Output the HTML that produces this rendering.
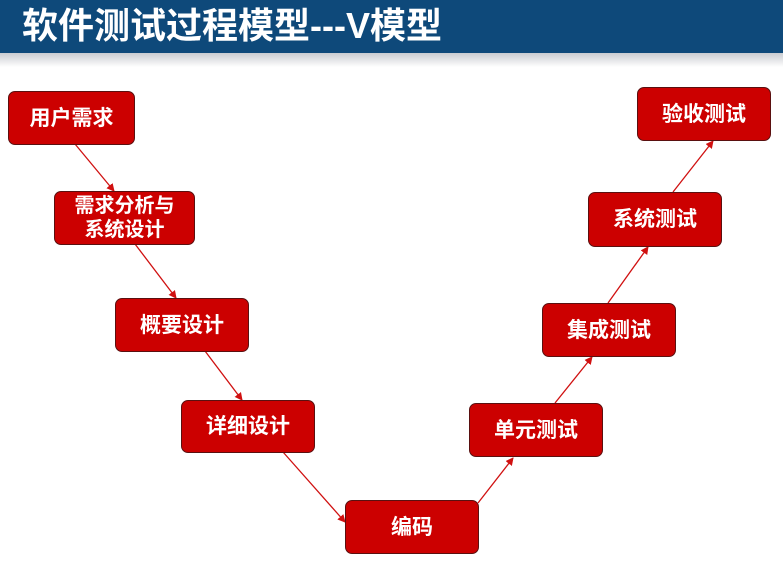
<!DOCTYPE html>
<html><head><meta charset="utf-8"><style>
body{margin:0;width:783px;height:562px;background:#fff;position:relative;overflow:hidden;font-family:"Liberation Sans","Noto Sans CJK SC",sans-serif}
.hd{position:absolute;left:0;top:0;width:783px;height:53px;background:#0e497a}
.sh{position:absolute;left:0;top:53px;width:783px;height:14px;background:linear-gradient(#c9ccd1,#fff)}
.t{position:absolute;left:22px;top:5px;color:#fff;font-weight:bold;font-size:36px;line-height:42px;white-space:nowrap}
.b{position:absolute;background:#cc0000;border:1.5px solid #5a1010;border-radius:7px;color:#fff;font-weight:bold;font-size:21px;display:flex;align-items:center;justify-content:center;text-align:center;line-height:25px;box-sizing:border-box}
svg{position:absolute;left:0;top:0}
</style></head><body>
<div class="hd"></div><div class="sh"></div>
<div class="t">软件测试过程模型---V模型</div>
<svg width="783" height="562"><defs><marker id="a" markerWidth="8" markerHeight="8" refX="7" refY="4" orient="auto" markerUnits="userSpaceOnUse"><path d="M0,0 L8,4 L0,8 z" fill="#d01010"/></marker></defs>
<g stroke="#d01010" stroke-width="1.3" marker-end="url(#a)">
<line x1="75" y1="144" x2="114" y2="191"/>
<line x1="135" y1="244" x2="176" y2="298"/>
<line x1="205" y1="351" x2="242" y2="400"/>
<line x1="283" y1="452" x2="345" y2="522"/>
<line x1="478" y1="503" x2="513" y2="458"/>
<line x1="555" y1="403" x2="592" y2="357"/>
<line x1="608" y1="303" x2="648" y2="247"/>
<line x1="673" y1="192" x2="713" y2="141"/>
</g></svg>
<div class="b" style="left:8px;top:91px;width:127px;height:54px">用户需求</div>
<div class="b" style="left:54px;top:191px;width:141px;height:54px;font-size:20px;line-height:24px">需求分析与<br>系统设计</div>
<div class="b" style="left:115px;top:298px;width:134px;height:54px">概要设计</div>
<div class="b" style="left:181px;top:400px;width:134px;height:53px">详细设计</div>
<div class="b" style="left:345px;top:500px;width:134px;height:54px">编码</div>
<div class="b" style="left:469px;top:403px;width:134px;height:54px">单元测试</div>
<div class="b" style="left:542px;top:303px;width:134px;height:54px">集成测试</div>
<div class="b" style="left:588px;top:192px;width:134px;height:55px">系统测试</div>
<div class="b" style="left:637px;top:87px;width:134px;height:54px">验收测试</div>
</body></html>
